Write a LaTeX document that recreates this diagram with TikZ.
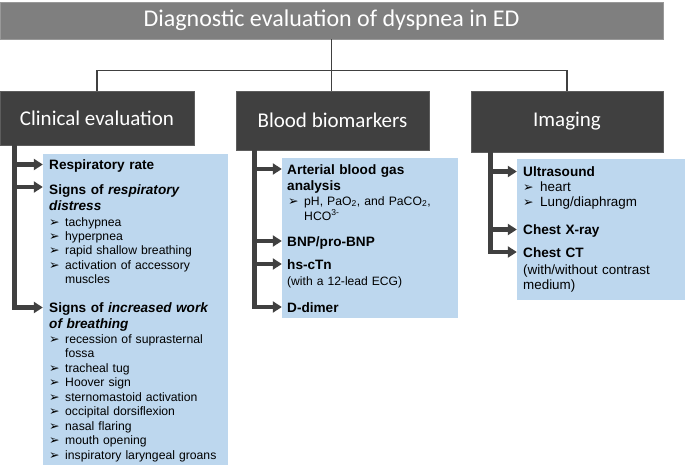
\documentclass[tikz,border=0pt]{standalone}
\usepackage{fontspec}
\setmainfont{Liberation Sans}
\newfontfamily\calibrifont{Carlito}
\newfontfamily\dejavufont{DejaVu Sans}
\usetikzlibrary{arrows.meta,calc}
\definecolor{titlegray}{HTML}{7F7F7F}
\definecolor{darkbox}{HTML}{404040}
\definecolor{lightblue}{HTML}{BDD7EE}
\newcommand{\bul}[1][16pt]{\makebox[#1][l]{\dejavufont\fontsize{12.5}{12.5}\selectfont ➢}}
\tikzset{
  titlebox/.style={fill=titlegray, draw=titlegray!80!white, line width=0.6pt, inner sep=0pt,
    text=white, font=\calibrifont\fontsize{24}{28}\selectfont},
  catbox/.style={fill=darkbox, draw=darkbox!85!white, line width=0.6pt, inner sep=0pt,
    text=white, font=\calibrifont\fontsize{21}{25}\selectfont},
  conn/.style={draw=darkbox, line width=1.4pt},
  bluebox/.style={fill=lightblue, draw=none, inner sep=0pt},
  hdr/.style={anchor=base west, inner sep=0pt, text width=200pt, align=left,
    font=\fontsize{13.6}{16}\selectfont\bfseries},
  itm/.style={anchor=base west, inner sep=0pt, text width=200pt, align=left,
    font=\fontsize{12.2}{14.4}\selectfont},
  bar/.style={draw=darkbox, line width=4.5pt, line join=miter,
    -{Triangle[length=9pt,width=11pt]}},
}
\begin{document}
\begin{tikzpicture}[x=1pt,y=-1pt]
\useasboundingbox (0,0) rectangle (685,471);
\fill[white] (0,0) rectangle (685,471);

% title
\node[titlebox, minimum width=663pt, minimum height=37pt] (title) at (331.5,20.5)
  {Diagnostic evaluation of dyspnea in ED};

% category boxes
\node[catbox, minimum width=194pt, minimum height=54pt] (clin) at (97,118) {Clinical evaluation};
\node[catbox, minimum width=193pt, minimum height=59pt] (blood) at (332.5,120.5) {Blood biomarkers};
\node[catbox, minimum width=192pt, minimum height=61pt] (img) at (567,121.5) {Imaging};

% tree connectors
\draw[conn] (title.south) -- ++(0,31) -| (clin.north);
\draw[conn] (title.south) -- ++(0,31) -| (img.north);
\draw[conn] (title.south) -- (title.south |- blood.north);

% blue boxes
\node[bluebox, minimum width=185pt, minimum height=311pt] (cb) at (135.5,309.5) {};
\node[bluebox, minimum width=176pt, minimum height=160pt] (bb) at (370,238) {};
\node[bluebox, minimum width=168pt, minimum height=141pt] (ib) at (601,229.5) {};

% clinical evaluation texts
\node[hdr] (rr) at (49,169) {Respiratory rate};
\node[hdr] (srd) at (49,194) {Signs of \textit{respiratory}\\\textit{distress}};
\node[itm] (srdi) at (49,226) {\bul tachypnea\\\bul hyperpnea\\\bul rapid shallow breathing\\
  \bul activation of accessory\\\hspace*{16pt}muscles};
\node[hdr] (siw) at (49,312) {Signs of \textit{increased work}\\\textit{of breathing}};
\node[itm, font=\fontsize{12.2}{14.5}\selectfont] (siwi) at (49,343) {\bul recession of suprasternal\\
  \hspace*{16pt}fossa\\\bul tracheal tug\\\bul Hoover sign\\\bul sternomastoid activation\\
  \bul occipital dorsiflexion\\\bul nasal flaring\\\bul mouth opening\\\bul inspiratory laryngeal groans};

% blood biomarker texts
\node[hdr] (abg) at (287,174) {Arterial blood gas\\analysis};
\node[itm, font=\fontsize{12.2}{15}\selectfont] (abgi) at (288,205)
  {\bul[16pt]pH, PaO\textsubscript{2}, and PaCO\textsubscript{2},\\\hspace*{16pt}HCO\textsuperscript{3-}};
\node[hdr] (bnp) at (287,246) {BNP/pro-BNP};
\node[hdr] (tn) at (287,269) {hs-cTn};
\node[itm, font=\fontsize{12.1}{14}\selectfont] (tni) at (287,285) {(with a 12-lead ECG)};
\node[hdr] (dd) at (287,312) {D-dimer};

% imaging texts
\node[hdr] (us) at (523,176) {Ultrasound};
\node[itm, font=\fontsize{13.4}{15}\selectfont] (usi) at (523,191) {\bul[17pt]heart\\\bul[17pt]Lung/diaphragm};
\node[hdr] (cxr) at (523,234) {Chest X-ray};
\node[hdr] (ct) at (523,257) {Chest CT};
\node[itm, font=\fontsize{13.4}{15}\selectfont] (cti) at (523,274) {(with/without contrast\\medium)};

% bar start points
\coordinate (cbar) at ([xshift=15pt]clin.south west);
\coordinate (bbar) at ([xshift=19pt]blood.south west);
\coordinate (ibar) at ([xshift=20pt]img.south west);

% arrow end points
\coordinate (c1) at ($(rr.base -| cb.west)+(0,-4.5)$);
\coordinate (c2) at ($(srd.base -| cb.west)+(0,-7)$);
\coordinate (c3) at ($(siw.base -| cb.west)+(0,-4.5)$);
\coordinate (b1) at ($(abg.base -| bb.west)+(0,-5)$);
\coordinate (b2) at ($(bnp.base -| bb.west)+(0,-5)$);
\coordinate (b3) at ($(tn.base -| bb.west)+(0,-5)$);
\coordinate (b4) at ($(dd.base -| bb.west)+(0,-5)$);
\coordinate (i1) at ($(us.base -| ib.west)+(0,-4.5)$);
\coordinate (i2) at ($(cxr.base -| ib.west)+(0,-4.5)$);
\coordinate (i3) at ($(ct.base -| ib.west)+(0,-5)$);

% bars and arrows
\draw[bar] (cbar) |- (c3);
\draw[bar] (cbar |- c1) -- (c1);
\draw[bar] (cbar |- c2) -- (c2);

\draw[bar] (bbar) |- (b4);
\draw[bar] (bbar |- b1) -- (b1);
\draw[bar] (bbar |- b2) -- (b2);
\draw[bar] (bbar |- b3) -- (b3);

\draw[bar] (ibar) |- (i3);
\draw[bar] (ibar |- i1) -- (i1);
\draw[bar] (ibar |- i2) -- (i2);
\end{tikzpicture}
\end{document}
